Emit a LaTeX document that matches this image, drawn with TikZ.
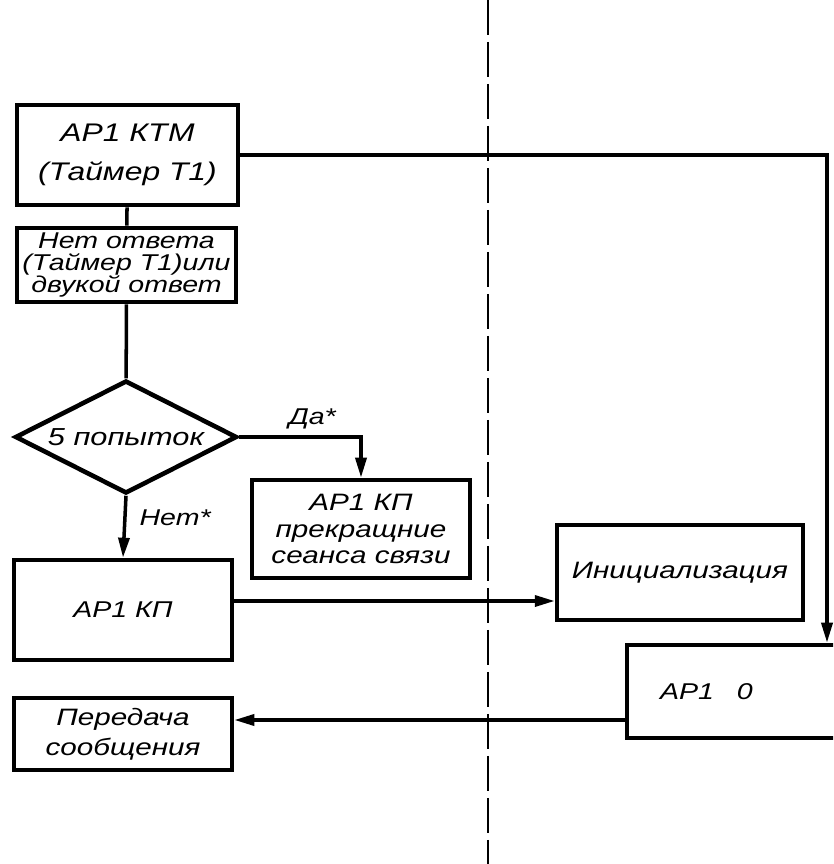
\documentclass[tikz,border=0pt]{standalone}
\usepackage{fontspec}
\setmainfont{Liberation Sans}[FakeStretch=1.25]
\usepackage{tikz}
\usetikzlibrary{arrows.meta,calc,shapes.geometric}

\begin{document}
\begin{tikzpicture}[x=0.02cm,y=-0.02cm,
  blok/.style={draw, line width=2.6pt, inner sep=0pt, align=center, font=\itshape},
  romb/.style={draw, diamond, line width=2.6pt, inner sep=0pt, aspect=2, font=\itshape},
  svyaz/.style={line width=2pt},
  strel/.style={line width=2pt, -{Triangle[length=0.4cm,width=0.22cm]}},
  metka/.style={font=\itshape\fontsize{13}{15}\selectfont}]
  \useasboundingbox (0,0) rectangle (833,864);
  \clip (0,0) rectangle (833,864);
  % граница (штриховая)
  \coordinate (verh) at (488,0);
  \coordinate (niz) at (488,864);
  \draw[line width=1.6pt, dash pattern=on 0.7cm off 0.14cm] (verh) -- (niz);
  % блоки
  \node[blok, minimum width=4.42cm, minimum height=2cm, font=\itshape\fontsize{14.5}{22}\selectfont] (ktm) at (127.5,155) {АР1 КТМ\\(Таймер Т1)};
  \node[blok, minimum width=4.38cm, minimum height=1.48cm, font=\itshape\fontsize{13}{12.5}\selectfont] (otv) at (126.5,265) {Нет ответа\\(Таймер Т1)или\\двукой ответ};
  \node[romb, minimum width=4.44cm, minimum height=2.26cm, font=\itshape\fontsize{14}{16}\selectfont] (popyt) at (126,437) {5 попыток};
  \node[blok, minimum width=4.36cm, minimum height=1.96cm, font=\itshape\fontsize{13.5}{15}\selectfont] (kps) at (361,529) {АР1 КП\\прекращние\\сеанса связи};
  \node[blok, minimum width=4.36cm, minimum height=2cm, font=\itshape\fontsize{13}{15}\selectfont] (kp) at (123,610) {АР1 КП};
  \node[blok, minimum width=4.92cm, minimum height=1.9cm, font=\itshape\fontsize{13.5}{15}\selectfont] (init) at (680,572.5) {Инициализация};
  \node[blok, text width=3.34cm, inner xsep=0.66cm, align=left, minimum height=1.86cm, font=\itshape\fontsize{13}{15}\selectfont] (ao) at (743.5,691.5) {АР1\quad 0};
  \node[blok, minimum width=4.36cm, minimum height=1.44cm, font=\itshape\fontsize{13.5}{17}\selectfont] (per) at (123,734) {Передача\\сообщения};
  % связи
  \draw[svyaz] (ktm) -- (otv);
  \draw[svyaz] (otv) -- (popyt);
  \draw[strel] (popyt.east) -| node[metka, pos=0.3, above] (da) {Да*} (kps.north);
  \draw[strel] (popyt.south) -- node[metka, pos=0.35, right, xshift=4pt] (net) {Нет*} (kp.north);
  \draw[strel] ([yshift=0.18cm]kp.east) -- ([yshift=0.18cm]kp.east -| init.west);
  \coordinate (povorot) at (827,155);
  \draw[strel] (ktm.east) -- (povorot) -- (povorot |- ao.north);
  \draw[strel] ([yshift=-0.57cm]ao.west) -- ([yshift=-0.57cm]ao.west -| per.east);
\end{tikzpicture}
\end{document}
